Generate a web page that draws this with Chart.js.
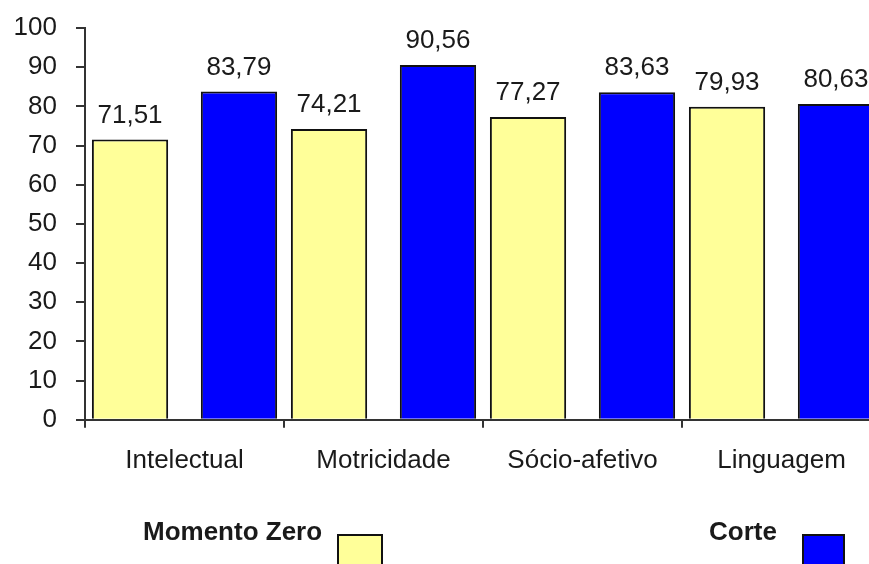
<!DOCTYPE html>
<html>
<head>
<meta charset="utf-8">
<script src="https://cdn.jsdelivr.net/npm/chart.js@4/dist/chart.umd.min.js"></script>
<style>
  html, body { margin: 0; padding: 0; background: #fff; overflow: hidden; }
  #wrap { width: 890px; height: 564px; }
</style>
</head>
<body>
<div id="wrap"><canvas id="barChart"></canvas></div>
<script>
const categories = ["Intelectual", "Motricidade", "Sócio-afetivo", "Linguagem"];
const momentoZero = [71.51, 74.21, 77.27, 79.93];
const corte = [83.79, 90.56, 83.63, 80.63];
const yTicks = [0, 10, 20, 30, 40, 50, 60, 70, 80, 90, 100];

const FONT = "'Liberation Sans', Arial, sans-serif";
const TEXT = "#1a1a1a";

function fmt(v) {
  return v.toFixed(2).replace(".", ",");
}

// numbers over the bars
const valueLabels = {
  id: "valueLabels",
  afterDatasetsDraw(chart) {
    const ctx = chart.ctx;
    ctx.save();
    ctx.font = "26px " + FONT;
    ctx.fillStyle = TEXT;
    ctx.textAlign = "center";
    ctx.textBaseline = "alphabetic";
    chart.data.datasets.forEach((ds, i) => {
      chart.getDatasetMeta(i).data.forEach((bar, j) => {
        ctx.fillText(fmt(ds.data[j]), bar.x, bar.y - 17);
      });
    });
    ctx.restore();
  }
};

// legend at the bottom: bold name, then a box to its right
const bottomLegend = {
  id: "bottomLegend",
  afterDraw(chart) {
    const ctx = chart.ctx;
    const spots = [
      { tx: 143, bx: 338, bw: 44 },
      { tx: 709, bx: 803, bw: 41 }
    ];
    ctx.save();
    ctx.font = "bold 26px " + FONT;
    ctx.textBaseline = "alphabetic";
    ctx.textAlign = "left";
    chart.data.datasets.forEach((ds, i) => {
      const s = spots[i];
      ctx.fillStyle = TEXT;
      ctx.fillText(ds.label, s.tx, 540);
      ctx.fillStyle = ds.backgroundColor;
      ctx.fillRect(s.bx, 535, s.bw, 40);
      ctx.strokeStyle = "#111";
      ctx.lineWidth = 2;
      ctx.strokeRect(s.bx, 535, s.bw, 40);
    });
    ctx.restore();
  }
};

const ctx = document.getElementById("barChart").getContext("2d");
new Chart(ctx, {
  type: "bar",
  data: {
    labels: categories,
    datasets: [
      {
        label: "Momento Zero",
        data: momentoZero,
        backgroundColor: "#ffff99",
        borderColor: "#111",
        borderWidth: 2
      },
      {
        label: "Corte",
        data: corte,
        backgroundColor: "#0000ff",
        borderColor: "#111",
        borderWidth: 2
      }
    ]
  },
  options: {
    responsive: true,
    maintainAspectRatio: false,
    animation: false,
    categoryPercentage: 1.095,
    barPercentage: 0.70,
    layout: {
      padding: { top: 28, right: 9, bottom: 71, left: 0 }
    },
    plugins: {
      legend: { display: false },
      tooltip: { enabled: false }
    },
    scales: {
      x: {
        grid: {
          offset: true,
          drawOnChartArea: false,
          drawTicks: true,
          tickLength: 8,
          color: "#333",
          lineWidth: 2
        },
        border: { color: "#333", width: 2 },
        ticks: {
          color: TEXT,
          padding: 17,
          font: { family: FONT, size: 26 }
        }
      },
      y: {
        min: 0,
        max: 100,
        afterFit(scale) {
          scale.width = 85;
          scale.paddingTop = 0;
        },
        afterBuildTicks(scale) {
          scale.ticks = yTicks.map(v => ({ value: v }));
        },
        grid: {
          drawOnChartArea: false,
          drawTicks: true,
          tickLength: 9,
          color: "#333",
          lineWidth: 2
        },
        border: { color: "#333", width: 2 },
        ticks: {
          color: TEXT,
          padding: 19,
          font: { family: FONT, size: 26 }
        }
      }
    }
  },
  plugins: [valueLabels, bottomLegend]
});
</script>
</body>
</html>
